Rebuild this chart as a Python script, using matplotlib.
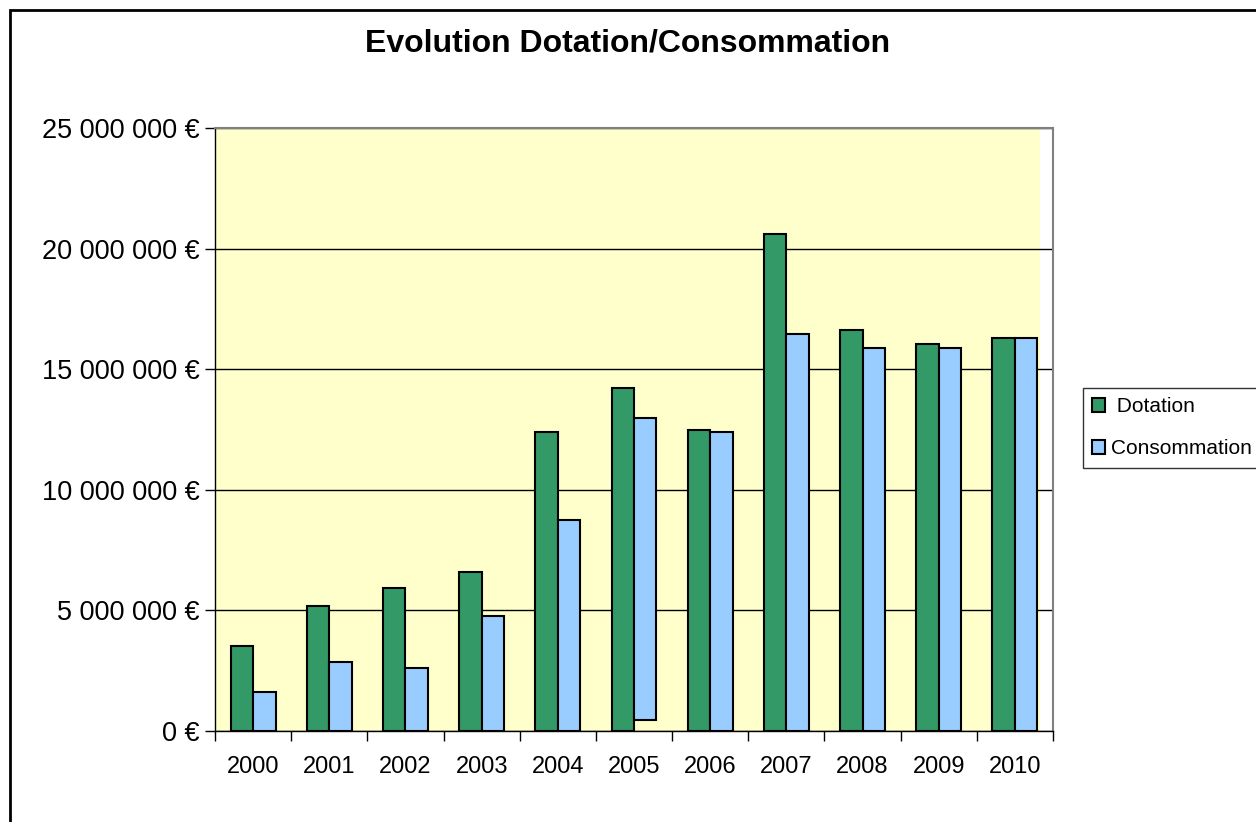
import matplotlib.pyplot as plt
import numpy as np
from matplotlib.patches import Rectangle
from matplotlib.ticker import FuncFormatter, FixedLocator
from matplotlib.transforms import ScaledTranslation

plt.rcParams['font.family'] = ['Liberation Sans', 'DejaVu Sans']

annees = ["2000", "2001", "2002", "2003", "2004", "2005",
          "2006", "2007", "2008", "2009", "2010"]
dotation = [3520000, 5180000, 5930000, 6590000, 12380000, 14220000,
            12480000, 20600000, 16630000, 16040000, 16290000]
consommation = [1620000, 2860000, 2610000, 4770000, 8750000, 12980000,
                12400000, 16460000, 15880000, 15880000, 16290000]
# la barre 2005 ne part pas de zero dans l'original
base_conso = [0, 0, 0, 0, 0, 450000, 0, 0, 0, 0, 0]

W, H, DPI = 1256, 822, 100
fig = plt.figure(figsize=(W / DPI, H / DPI), dpi=DPI)
ax = fig.add_axes([215 / W, 1 - 731 / H, (1053 - 215) / W, (731 - 128) / H])

# fond jaune decale vers la gauche comme dans excel
ax.set_facecolor("white")
decal = ax.transAxes + ScaledTranslation(-13 / DPI, 0, fig.dpi_scale_trans)
ax.add_patch(Rectangle((0, -0.004), 1, 1.004, transform=decal,
                       facecolor="#FFFFCC", edgecolor="none", zorder=0))

x = np.arange(len(annees))
w = 0.295
ax.bar(x - w / 2, dotation, w, color="#339966", edgecolor="black",
       linewidth=1.5, label=" Dotation", zorder=3)
conso_haut = np.array(consommation) - np.array(base_conso)
ax.bar(x + w / 2, conso_haut, w, bottom=base_conso, color="#99CCFF",
       edgecolor="black", linewidth=1.5, label="Consommation", zorder=3)

ax.set_xlim(-0.5, len(annees) - 0.5)
ax.set_ylim(0, 25000000)
ax.set_yticks(np.arange(0, 25000001, 5000000))
ax.yaxis.set_major_formatter(FuncFormatter(
    lambda v, p: f"{v:,.0f}".replace(",", " ") + " €"))
ax.grid(axis="y", color="black", linewidth=1, zorder=1)
ax.set_axisbelow(True)

ax.set_xticks(x)
ax.set_xticklabels(annees)
ax.xaxis.set_minor_locator(FixedLocator(np.arange(-0.5, len(annees), 1)))
ax.tick_params(axis="x", which="major", length=0, pad=18, labelsize=17)
ax.tick_params(axis="x", which="minor", length=7, width=1, direction="out")
ax.tick_params(axis="y", length=7, width=1, pad=4, labelsize=19.5)

for s in ["top", "right"]:
    ax.spines[s].set_color("#808080")
    ax.spines[s].set_linewidth(1.5)
for s in ["left", "bottom"]:
    ax.spines[s].set_color("black")
    ax.spines[s].set_linewidth(1)

fig.text(0.5, 1 - 43 / H, "Evolution Dotation/Consommation", ha="center",
         va="center", fontsize=23, fontweight="bold")

leg = fig.legend(loc="upper left", bbox_to_anchor=(1083 / W, 1 - 388 / H),
                 fontsize=15, frameon=True, fancybox=False,
                 edgecolor="black", handlelength=0.6, handleheight=0.6,
                 handletextpad=0.3, borderpad=0.45, labelspacing=1.1,
                 borderaxespad=0)
leg.get_frame().set_linewidth(1)

# cadre du graphique
fig.add_artist(Rectangle((10 / W, -0.1), 1.2, 1.1 - 10 / H,
                         transform=fig.transFigure, facecolor="none",
                         edgecolor="black", linewidth=2))

fig.savefig("out.png", dpi=DPI)
